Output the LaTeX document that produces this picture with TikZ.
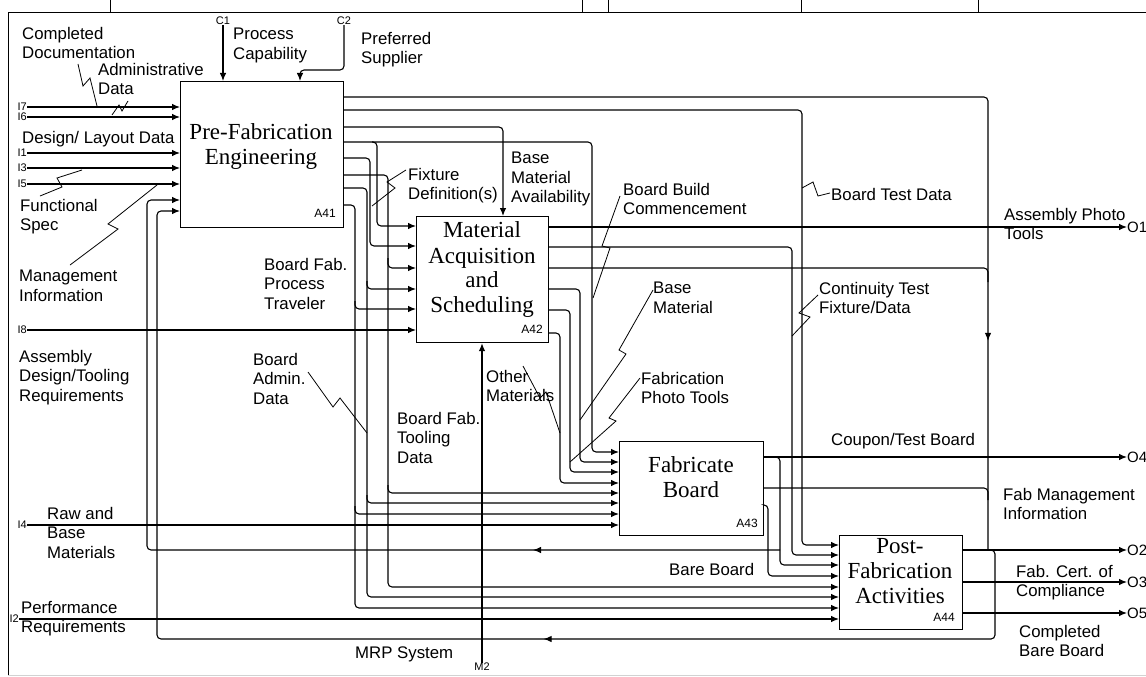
\documentclass[tikz,border=0pt]{standalone}
\usepackage{fontspec}
\setmainfont{Liberation Serif}
\setsansfont{Liberation Sans}
\usetikzlibrary{arrows.meta,decorations.markings}
\begin{document}
\begin{tikzpicture}[x=1pt,y=-1pt,
  ln/.style={line width=1.1pt, rounded corners=4pt},
  arr/.style={ln, -{Latex[length=8pt,width=6.5pt]}},
  midarr/.style={ln, postaction={decorate}, decoration={markings, mark=at position #1 with {\arrow{Latex[length=8pt,width=6.5pt]}}}},
  sq/.style={line width=0.8pt},
  box/.style={draw, line width=1.2pt, inner sep=0pt, anchor=north west},
  ttl/.style={font=\fontsize{23}{25}\selectfont\rmfamily, align=center, inner sep=0pt},
  lab/.style={font=\fontsize{16.8}{19.5}\selectfont\sffamily, align=left, inner sep=0pt, anchor=north west},
  tinyl/.style={font=\fontsize{11}{12}\selectfont\sffamily, inner sep=0pt},
  idl/.style={font=\fontsize{12}{13}\selectfont\sffamily, inner sep=0pt, anchor=base east},
  olab/.style={font=\fontsize{15}{16}\selectfont\sffamily, inner sep=0pt, anchor=west},
]
\useasboundingbox (0,0) rectangle (1146,677);
\fill[white] (0,0) rectangle (1146,677);

% frame
\draw[line width=1pt] (8,675) -- (8,13) -- (1146,13);
\draw[gray!35, line width=0.8pt] (8,675) -- (1146,675);
\foreach \t in {110,582,608,801,978} \draw[line width=1pt] (\t,0) -- (\t,13);

% boxes
\node[box, minimum width=163pt, minimum height=146pt] (a41) at (180,81) {};
\node[box, minimum width=132pt, minimum height=126pt] (a42) at (416,216) {};
\node[box, minimum width=144pt, minimum height=94pt] (a43) at (619,441) {};
\node[box, minimum width=123pt, minimum height=94pt] (a44) at (839,535) {};

\node[ttl] (t41) at (261,147) {Pre-Fabrication\\Engineering};
\node[ttl] (t42) at (482,270) {Material\\Acquisition\\and\\Scheduling};
\node[ttl] (t43) at (691,477) {Fabricate\\Board};
\node[ttl] (t44) at (900,571) {Post-\\Fabrication\\Activities};

\node[idl] (n41) at (336,217) {A41};
\node[idl] (n42) at (543,333) {A42};
\node[idl] (n43) at (758,527) {A43};
\node[idl] (n44) at (955,621) {A44};

% inputs
\node[tinyl, anchor=east] (i7) at (27,107) {I7};
\node[tinyl, anchor=east] (i6) at (27,117) {I6};
\node[tinyl, anchor=east] (i1) at (27,153) {I1};
\node[tinyl, anchor=east] (i3) at (27,168) {I3};
\node[tinyl, anchor=east] (i5) at (27,184) {I5};
\node[tinyl, anchor=east] (i8) at (27,330) {I8};
\node[tinyl, anchor=east] (i4) at (27,525) {I4};
\node[tinyl, anchor=east] (i2) at (19,619) {I2};
\draw[arr] (i7.east) -- (a41.west |- i7.east);
\draw[arr] (i6.east) -- (a41.west |- i6.east);
\draw[arr] (i1.east) -- (a41.west |- i1.east);
\draw[arr] (i3.east) -- (a41.west |- i3.east);
\draw[arr] (i5.east) -- (a41.west |- i5.east);
\draw[arr] (i8.east) -- (a42.west |- i8.east);
\draw[arr] (i4.east) -- (a43.west |- i4.east);
\draw[arr] (i2.east) -- (a44.west |- i2.east);

% controls and mechanism
\node[tinyl] (c1) at (223,21) {C1};
\draw[arr] (c1.south) -- (a41.north -| c1.south);
\node[tinyl] (c2) at (344,21) {C2};
\draw[arr] (c2.south) |- (300,70) -- (a41.north -| 300,0);
\node[tinyl] (m2) at (482,667) {M2};
\draw[arr] (m2.north) -- (a42.south -| m2.north);

% outputs
\node[olab] (o1) at (1127,227) {O1};
\node[olab] (o4) at (1127,457) {O4};
\node[olab] (o2) at (1127,550) {O2};
\node[olab] (o3) at (1127,582) {O3};
\node[olab] (o5) at (1127,613) {O5};
\draw[arr] (a42.east |- o1.west) -- (o1.west);
\draw[arr] (a43.east |- o4.west) -- (o4.west);
\draw[arr] (a44.east |- o2.west) -- (o2.west);
\draw[arr] (a44.east |- o3.west) -- (o3.west);
\draw[arr] (a44.east |- o5.west) -- (o5.west);

% A41 outputs
\draw[midarr=886pt] (a41.east |- 0,97) -| (988,550);
\draw[arr] (a41.east |- 0,110) -| (802,545) -- (a44.west |- 0,545);
\draw[arr] (a41.east |- 0,127) -| (a42.north -| 503,0);
\draw[arr] (a41.east |- 0,142) -| (592,452) -- (a43.west |- 0,452);
\draw[arr] (372,142) -| (377,226) -- (a42.west |- 0,226);
\draw[arr] (a41.east |- 0,158) -| (370,246) -- (a42.west |- 0,246);
\draw[arr] (a41.east |- 0,175) -| (388,587) -- (a44.west |- 0,587);
\draw[arr] (388,258) |- (a42.west |- 0,268);
\draw[arr] (388,485) |- (a43.west |- 0,493);
\draw[arr] (a41.east |- 0,188) -| (367,597) -- (a44.west |- 0,597);
\draw[arr] (367,281) |- (a42.west |- 0,289);
\draw[arr] (367,495) |- (a43.west |- 0,503);
\draw[arr] (a41.east |- 0,205) -| (355,608) -- (a44.west |- 0,608);
\draw[arr] (355,301) |- (a42.west |- 0,309);
\draw[arr] (355,506) |- (a43.west |- 0,514);

% A42 outputs
\draw[arr] (a42.east |- 0,247) -| (792,555) -- (a44.west |- 0,555);
\draw[ln] (a42.east |- 0,268) -| (988,282);
\draw[arr] (a42.east |- 0,289) -| (580,462) -- (a43.west |- 0,462);
\draw[arr] (a42.east |- 0,310) -| (570,472) -- (a43.west |- 0,472);
\draw[arr] (a42.east |- 0,333) -| (560,483) -- (a43.west |- 0,483);

% A43 outputs and feedback
\draw[ln] (a43.east |- 0,488) -| (988,500);
\draw[arr] (a43.east |- 0,505) -| (768,576) -- (a44.west |- 0,576);
\draw[arr] (772,457) -| (780,565) -- (a44.west |- 0,565);
\draw[arr, midarr=247pt] (780,550) -- (147,550) |- (a41.west |- 0,200);
\draw[arr, midarr=548pt] (984,550) -| (995,639) -- (157,639) |- (a41.west |- 0,211);

% labels
\node[lab] (lcd) at (22,27) {Completed\\Documentation};
\node[lab] (lad) at (98,63) {Administrative\\Data};
\node[lab] (ldl) at (22,131) {Design/ Layout Data};
\node[lab] (lfs) at (20,199) {Functional\\Spec};
\node[lab] (lmi) at (19,270) {Management\\Information};
\node[lab] (lasm) at (19,350) {Assembly\\Design/Tooling\\Requirements};
\node[lab] (lrb) at (47,507) {Raw and\\Base\\Materials};
\node[lab] (lpr) at (21,601) {Performance\\Requirements};
\node[lab] (lpc) at (233,28) {Process\\Capability};
\node[lab] (lps) at (361,32) {Preferred\\Supplier};
\node[lab] (lfp) at (264,258) {Board Fab.\\Process\\Traveler};
\node[lab] (lba) at (253,353) {Board\\Admin.\\Data};
\node[lab] (lbt) at (397,412) {Board Fab.\\Tooling\\Data};
\node[lab] (lom) at (486,370) {Other\\Materials};
\node[lab] (lfd) at (408,168) {Fixture\\Definition(s)};
\node[lab] (lbm) at (511,152) {Base\\Material\\Availability};
\node[lab] (lbb) at (623,183) {Board Build\\Commencement};
\node[lab] (lbm2) at (653,282) {Base\\Material};
\node[lab] (lfpt) at (641,372) {Fabrication\\Photo Tools};
\node[lab] (lbtd) at (831,188) {Board Test Data};
\node[lab] (lapt) at (1004,208) {Assembly Photo\\Tools};
\node[lab] (lct) at (819,282) {Continuity Test\\Fixture/Data};
\node[lab] (lcb) at (831,433) {Coupon/Test Board};
\node[lab] (lfm) at (1003,488) {Fab Management\\Information};
\node[lab] (lfc) at (1016,565) {Fab. Cert. of\\Compliance};
\node[lab] (lcbb) at (1019,625) {Completed\\Bare Board};
\node[lab] (lbare) at (669,563) {Bare Board};
\node[lab] (lmrp) at (355,647) {MRP System};

% squiggles
\draw[sq] (78,64) -- (83,86) -- (90,78) -- (97,106);
\draw[sq] (112,115) -- (119,105) -- (122,111) -- (128,101);
\draw[sq] (40,196) -- (62,187) -- (57,178) -- (82,170);
\draw[sq] (70,265) -- (118,229) -- (108,224) -- (157,185);
\draw[sq] (406,170) -- (387,182) -- (395,188) -- (372,206);
\draw[sq] (308,372) -- (333,407) -- (340,398) -- (367,433);
\draw[sq] (523,366) -- (540,398) -- (546,392) -- (560,433);
\draw[sq] (653,290) -- (619,350) -- (626,354) -- (580,420);
\draw[sq] (640,378) -- (609,418) -- (616,421) -- (570,462);
\draw[sq] (620,196) -- (602,246) -- (610,248) -- (593,298);
\draw[sq] (802,188) -- (813,182) -- (818,196) -- (830,193);
\draw[sq] (818,295) -- (799,313) -- (810,317) -- (792,336);
\end{tikzpicture}
\end{document}
